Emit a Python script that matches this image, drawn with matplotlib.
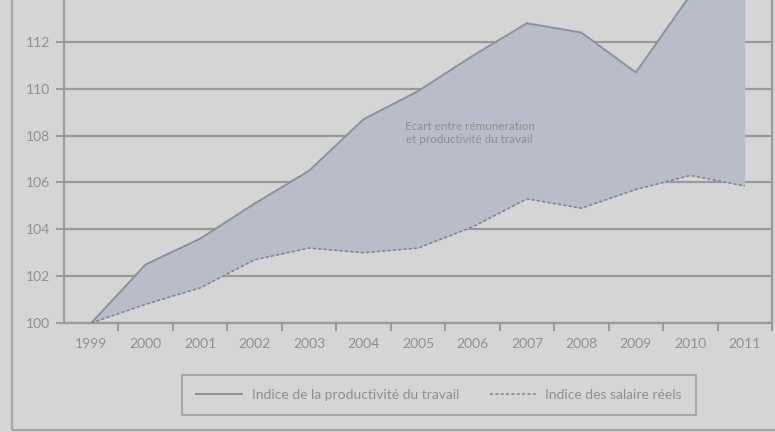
import numpy as np
import matplotlib
matplotlib.use("Agg")
from matplotlib import pyplot as plt
from matplotlib.patches import Rectangle

# 数据
annees = ["1999", "2000", "2001", "2002", "2003", "2004", "2005",
          "2006", "2007", "2008", "2009", "2010", "2011"]
productivite = [100.0, 102.5, 103.6, 105.1, 106.5, 108.7, 109.9,
                111.4, 112.8, 112.4, 110.7, 114.0, 115.5]
salaires = [100.0, 100.8, 101.5, 102.7, 103.2, 103.0, 103.2,
            104.1, 105.3, 104.9, 105.7, 106.3, 105.85]
yticks = [100, 102, 104, 106, 108, 110, 112, 114]

fond = "#d5d5d5"
gris = "#9a9a9a"
texte = "#8f8f8f"

plt.rcParams["font.family"] = ["Lato", "DejaVu Sans"]

fig = plt.figure(figsize=(7.75, 4.32), dpi=100, facecolor=fond)
# axes qui dépasse le haut de la figure (graphique coupé)
ax = fig.add_axes([64 / 775, 109 / 432, 708 / 775, 14.5 * 23.42 / 432])
ax.set_facecolor(fond)

x = np.arange(len(annees))
ax.fill_between(x, salaires, productivite, color="#b9bdc9", zorder=2, lw=0)
ax.plot(x, productivite, color="#8a909d", lw=1.4, zorder=3,
        label="Indice de la productivité du travail")
ax.plot(x, salaires, color="#7e828c", lw=1.1, ls=(0, (2, 1.5)), zorder=3,
        label="Indice des salaire réels")

ax.set_xlim(-0.5, len(annees) - 0.5)
ax.set_ylim(100, 114.5)

ax.set_yticks(yticks)
ax.set_yticklabels([str(v) for v in yticks])
ax.yaxis.grid(True, color=gris, lw=1.6, zorder=0)
ax.set_axisbelow(True)

# ticks aux frontières, étiquettes au centre
ax.set_xticks(x)
ax.set_xticklabels(annees)
ax.set_xticks(np.arange(-0.5, len(annees), 1.0)[1:], minor=True)
ax.tick_params(axis="x", which="major", length=0, pad=11, labelsize=10,
               labelcolor=texte)
ax.tick_params(axis="x", which="minor", length=6, width=1.4, color=gris)
ax.tick_params(axis="y", length=6, width=1.4, color=gris, labelsize=10,
               labelcolor=texte, pad=4)

ax.spines["top"].set_visible(False)
for s in ["left", "bottom", "right"]:
    ax.spines[s].set_color(gris)
    ax.spines[s].set_linewidth(1.6)

ax.text(6.95, 108.1, "Ecart entre rémuneration\net productivité du travail",
        ha="center", va="center", fontsize=8.4, color=texte, zorder=4,
        linespacing=1.25)

leg = fig.legend(loc="center", bbox_to_anchor=(439 / 775, 37 / 432), ncol=2,
                 frameon=True, fancybox=False, fontsize=10,
                 handlelength=3.3, handletextpad=0.7, columnspacing=2.2,
                 borderpad=1.0, labelcolor=texte)
leg.get_frame().set_facecolor(fond)
leg.get_frame().set_edgecolor(gris)
leg.get_frame().set_linewidth(1.4)

# cadre extérieur
fig.patches.append(Rectangle((12 / 775, 2 / 432), 1.0, 1.2, transform=fig.transFigure,
                             fill=False, edgecolor="#a3a6ad", lw=1.6))

fig.savefig("out.png", dpi=100, facecolor=fond)
